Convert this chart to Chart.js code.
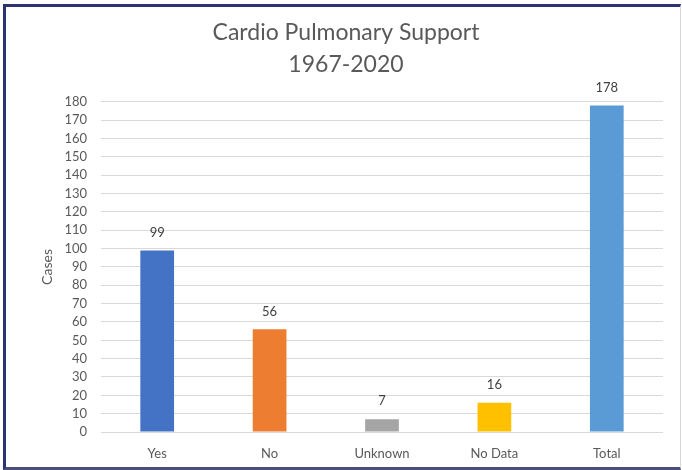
<!DOCTYPE html>
<html>
<head>
<meta charset="utf-8">
<script src="https://cdn.jsdelivr.net/npm/chart.js@4"></script>
<style>
  body { margin: 0; background: #fff; }
  #frame {
    position: absolute; left: 3px; top: 4px; width: 678px; height: 466px;
    box-sizing: border-box;
    border-left: 3px solid #2d3270; border-top: 3px solid #2d3270;
    border-bottom: 3px solid #4a4f7a; border-right: 1px solid #d8d8d8;
  }
  #wrap { position: absolute; left: 0; top: 0; width: 682px; height: 470px; }
</style>
</head>
<body>
<div id="frame"></div>
<div id="wrap"><canvas id="cpsChart"></canvas></div>
<script>
const categories = ['Yes', 'No', 'Unknown', 'No Data', 'Total'];
const cases = [99, 56, 7, 16, 178];
const barColors = ['#4472C4', '#ED7D31', '#A5A5A5', '#FFC000', '#5B9BD5'];
const titleLines = ['Cardio Pulmonary Support', '1967-2020'];

// draws the value above every bar
const valueLabels = {
  id: 'valueLabels',
  afterDatasetsDraw(chart) {
    const ctx = chart.ctx;
    const meta = chart.getDatasetMeta(0);
    ctx.save();
    ctx.font = '13px Lato, sans-serif';
    ctx.fillStyle = '#404040';
    ctx.textAlign = 'center';
    ctx.textBaseline = 'middle';
    meta.data.forEach((bar, i) => {
      ctx.fillText(chart.data.datasets[0].data[i], bar.x, bar.y - 18);
    });
    ctx.restore();
  }
};

new Chart(document.getElementById('cpsChart'), {
  type: 'bar',
  data: {
    labels: categories,
    datasets: [{
      label: 'Cases',
      data: cases,
      backgroundColor: barColors,
      categoryPercentage: 1,
      barPercentage: 0.3
    }]
  },
  options: {
    responsive: true,
    maintainAspectRatio: false,
    animation: false,
    layout: { padding: { left: 29, right: 19, top: 0, bottom: 0 } },
    plugins: {
      legend: { display: false },
      tooltip: { enabled: false },
      title: {
        display: true,
        text: titleLines,
        color: '#595959',
        font: { family: 'Lato, sans-serif', size: 23, weight: 'normal', lineHeight: 1.39 },
        padding: { top: 17, bottom: 21 }
      }
    },
    scales: {
      x: {
        grid: { display: false },
        border: { display: false },
        ticks: { color: '#595959', font: { family: 'Lato, sans-serif', size: 13 }, padding: 6 },
        afterFit(scale) { scale.height = 38; }
      },
      y: {
        min: 0,
        max: 180,
        ticks: { stepSize: 10, autoSkip: false, color: '#595959', font: { family: 'Lato, sans-serif', size: 13 }, padding: 14 },
        grid: { color: '#d9d9d9', drawTicks: false },
        border: { display: false },
        title: {
          display: true,
          text: 'Cases',
          color: '#595959',
          font: { family: 'Lato, sans-serif', size: 14 },
          padding: { top: 10, bottom: 0 }
        },
        afterFit(scale) { scale.width = 72; }
      }
    }
  },
  plugins: [valueLabels]
});
</script>
</body>
</html>
